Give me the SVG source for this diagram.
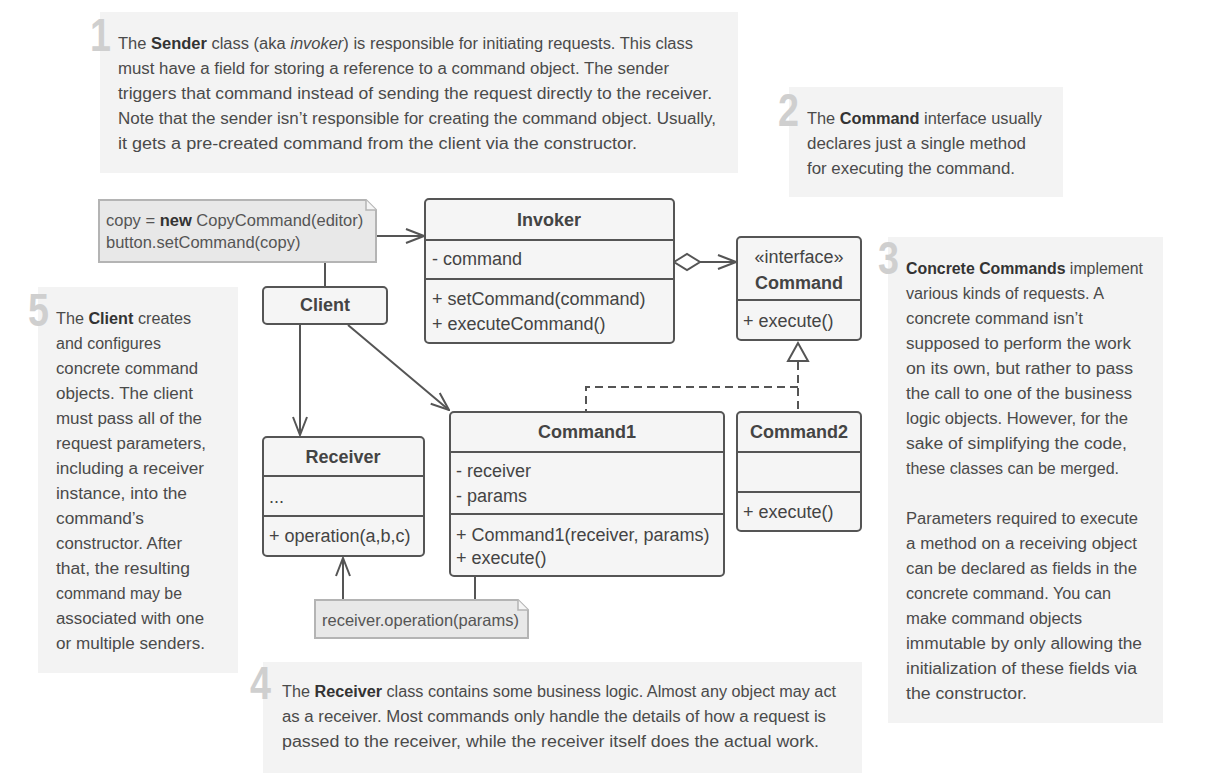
<svg xmlns="http://www.w3.org/2000/svg" width="1207" height="781" viewBox="0 0 1207 781">
<defs>
<style>
.panel{fill:#f3f3f3}
.num{font-family:"Liberation Sans",Arial,sans-serif;font-weight:bold;font-size:46px;fill:#cfcfcf}
.pt{font-family:"Liberation Sans",Arial,sans-serif;font-size:16px;fill:#4a4a4a}
.b{font-weight:bold;fill:#333}
.i{font-style:italic}
.box{fill:#f5f5f5;stroke:#555;stroke-width:2}
.nt{font-family:"Liberation Sans",Arial,sans-serif;font-size:18px;fill:#444}
.nh{font-family:"Liberation Sans",Arial,sans-serif;font-size:18px;font-weight:bold;fill:#444;text-anchor:middle}
.note{fill:#e8e8e8;stroke:#b4b4b4;stroke-width:2}
.fold{fill:#f5f5f5;stroke:#b4b4b4;stroke-width:1.5}
.ntx{font-family:"Liberation Sans",Arial,sans-serif;font-size:16.5px;fill:#555}
.ln{fill:none;stroke:#555;stroke-width:2}
.dash{fill:none;stroke:#555;stroke-width:2;stroke-dasharray:8 5}
</style>
<marker id="arr" markerUnits="userSpaceOnUse" viewBox="0 0 20 16" refX="19" refY="8" markerWidth="20" markerHeight="16" orient="auto">
<path d="M1,1 L19,8 L1,15" fill="none" stroke="#555" stroke-width="2"/>
</marker>
</defs>
<rect width="1207" height="781" fill="#ffffff"/>

<!-- Panels -->
<g id="panel1">
<rect class="panel" x="100" y="12" width="638" height="161"/>
<text class="num" transform="translate(90,51) scale(0.82,1)">1</text>
<text class="pt" x="118" y="49" textLength="575" lengthAdjust="spacingAndGlyphs">The <tspan class="b">Sender</tspan> class (aka <tspan class="i">invoker</tspan>) is responsible for initiating requests. This class</text>
<text class="pt" x="118" y="74" textLength="551" lengthAdjust="spacingAndGlyphs">must have a field for storing a reference to a command object. The sender</text>
<text class="pt" x="118" y="99" textLength="594" lengthAdjust="spacingAndGlyphs">triggers that command instead of sending the request directly to the receiver.</text>
<text class="pt" x="118" y="124" textLength="598" lengthAdjust="spacingAndGlyphs">Note that the sender isn’t responsible for creating the command object. Usually,</text>
<text class="pt" x="118" y="149" textLength="519" lengthAdjust="spacingAndGlyphs">it gets a pre-created command from the client via the constructor.</text>
</g>

<g id="panel2">
<rect class="panel" x="789" y="87" width="274" height="110"/>
<text class="num" transform="translate(778,126) scale(0.82,1)">2</text>
<text class="pt" x="807" y="124" textLength="235" lengthAdjust="spacingAndGlyphs">The <tspan class="b">Command</tspan> interface usually</text>
<text class="pt" x="807" y="149" textLength="219" lengthAdjust="spacingAndGlyphs">declares just a single method</text>
<text class="pt" x="807" y="174" textLength="208" lengthAdjust="spacingAndGlyphs">for executing the command.</text>
</g>

<g id="panel3">
<rect class="panel" x="888" y="237" width="275" height="486"/>
<text class="num" transform="translate(878,274) scale(0.82,1)">3</text>
<text class="pt" x="906" y="274" textLength="237" lengthAdjust="spacingAndGlyphs"><tspan class="b">Concrete Commands</tspan> implement</text>
<text class="pt" x="906" y="299" textLength="198" lengthAdjust="spacingAndGlyphs">various kinds of requests. A</text>
<text class="pt" x="906" y="324" textLength="177" lengthAdjust="spacingAndGlyphs">concrete command isn’t</text>
<text class="pt" x="906" y="349" textLength="225" lengthAdjust="spacingAndGlyphs">supposed to perform the work</text>
<text class="pt" x="906" y="374" textLength="227" lengthAdjust="spacingAndGlyphs">on its own, but rather to pass</text>
<text class="pt" x="906" y="399" textLength="226" lengthAdjust="spacingAndGlyphs">the call to one of the business</text>
<text class="pt" x="906" y="424" textLength="222" lengthAdjust="spacingAndGlyphs">logic objects. However, for the</text>
<text class="pt" x="906" y="449" textLength="221" lengthAdjust="spacingAndGlyphs">sake of simplifying the code,</text>
<text class="pt" x="906" y="474" textLength="213" lengthAdjust="spacingAndGlyphs">these classes can be merged.</text>
<text class="pt" x="906" y="524" textLength="232" lengthAdjust="spacingAndGlyphs">Parameters required to execute</text>
<text class="pt" x="906" y="549" textLength="231" lengthAdjust="spacingAndGlyphs">a method on a receiving object</text>
<text class="pt" x="906" y="574" textLength="231" lengthAdjust="spacingAndGlyphs">can be declared as fields in the</text>
<text class="pt" x="906" y="599" textLength="205" lengthAdjust="spacingAndGlyphs">concrete command. You can</text>
<text class="pt" x="906" y="624" textLength="176" lengthAdjust="spacingAndGlyphs">make command objects</text>
<text class="pt" x="906" y="649" textLength="236" lengthAdjust="spacingAndGlyphs">immutable by only allowing the</text>
<text class="pt" x="906" y="674" textLength="231" lengthAdjust="spacingAndGlyphs">initialization of these fields via</text>
<text class="pt" x="906" y="699" textLength="121" lengthAdjust="spacingAndGlyphs">the constructor.</text>
</g>

<g id="panel4">
<rect class="panel" x="263" y="662" width="599" height="111"/>
<text class="num" transform="translate(250,699) scale(0.82,1)">4</text>
<text class="pt" x="282" y="697" textLength="554" lengthAdjust="spacingAndGlyphs">The <tspan class="b">Receiver</tspan> class contains some business logic. Almost any object may act</text>
<text class="pt" x="282" y="722" textLength="544" lengthAdjust="spacingAndGlyphs">as a receiver. Most commands only handle the details of how a request is</text>
<text class="pt" x="282" y="747" textLength="537" lengthAdjust="spacingAndGlyphs">passed to the receiver, while the receiver itself does the actual work.</text>
</g>

<g id="panel5">
<rect class="panel" x="38" y="287" width="200" height="386"/>
<text class="num" transform="translate(28,326) scale(0.82,1)">5</text>
<text class="pt" x="56" y="324" textLength="135" lengthAdjust="spacingAndGlyphs">The <tspan class="b">Client</tspan> creates</text>
<text class="pt" x="56" y="349" textLength="105" lengthAdjust="spacingAndGlyphs">and configures</text>
<text class="pt" x="56" y="374" textLength="142" lengthAdjust="spacingAndGlyphs">concrete command</text>
<text class="pt" x="56" y="399" textLength="137" lengthAdjust="spacingAndGlyphs">objects. The client</text>
<text class="pt" x="56" y="424" textLength="146" lengthAdjust="spacingAndGlyphs">must pass all of the</text>
<text class="pt" x="56" y="449" textLength="150" lengthAdjust="spacingAndGlyphs">request parameters,</text>
<text class="pt" x="56" y="474" textLength="148" lengthAdjust="spacingAndGlyphs">including a receiver</text>
<text class="pt" x="56" y="499" textLength="131" lengthAdjust="spacingAndGlyphs">instance, into the</text>
<text class="pt" x="56" y="524" textLength="88" lengthAdjust="spacingAndGlyphs">command’s</text>
<text class="pt" x="56" y="549" textLength="126" lengthAdjust="spacingAndGlyphs">constructor. After</text>
<text class="pt" x="56" y="574" textLength="134" lengthAdjust="spacingAndGlyphs">that, the resulting</text>
<text class="pt" x="56" y="599" textLength="126" lengthAdjust="spacingAndGlyphs">command may be</text>
<text class="pt" x="56" y="624" textLength="148" lengthAdjust="spacingAndGlyphs">associated with one</text>
<text class="pt" x="56" y="649" textLength="149" lengthAdjust="spacingAndGlyphs">or multiple senders.</text>
</g>

<!-- Connectors -->
<g id="connectors">
<line class="ln" x1="376" y1="236" x2="424" y2="236" marker-end="url(#arr)"/>
<line class="ln" x1="325" y1="262" x2="325" y2="287"/>
<polygon points="674,262 687,254 700,262 687,270" fill="#ffffff" stroke="#555" stroke-width="2"/>
<line class="ln" x1="700" y1="262" x2="736" y2="262" marker-end="url(#arr)"/>
<line class="ln" x1="300" y1="324" x2="300" y2="435" marker-end="url(#arr)"/>
<line class="ln" x1="348" y1="325" x2="449" y2="410" marker-end="url(#arr)"/>
<path class="dash" d="M798,362 V412"/>
<path class="dash" d="M798,387 H586 V412"/>
<polygon points="798,343 788,361 808,361" fill="#ffffff" stroke="#555" stroke-width="2"/>
<line class="ln" x1="343" y1="600" x2="343" y2="558" marker-end="url(#arr)"/>
<line class="ln" x1="475" y1="576" x2="475" y2="600"/>
</g>

<!-- Nodes -->
<g id="note-client">
<path class="note" d="M99,200 H366 L376,210 V262 H99 Z"/>
<path class="fold" d="M366,200 V210 H376"/>
<text class="ntx" x="106" y="226">copy = <tspan font-weight="bold" fill="#333">new</tspan> CopyCommand(editor)</text>
<text class="ntx" x="106" y="248">button.setCommand(copy)</text>
</g>

<g id="invoker">
<rect class="box" x="425" y="199" width="249" height="144" rx="4"/>
<line class="ln" x1="425" y1="240" x2="674" y2="240"/>
<line class="ln" x1="425" y1="279" x2="674" y2="279"/>
<text class="nh" x="549" y="226">Invoker</text>
<text class="nt" x="432" y="265">- command</text>
<text class="nt" x="432" y="305">+ setCommand(command)</text>
<text class="nt" x="432" y="330">+ executeCommand()</text>
</g>

<g id="command">
<rect class="box" x="737" y="237" width="124" height="103" rx="4"/>
<line class="ln" x1="737" y1="300" x2="861" y2="300"/>
<text class="nt" x="799" y="263" text-anchor="middle">«interface»</text>
<text class="nh" x="799" y="289">Command</text>
<text class="nt" x="743" y="327">+ execute()</text>
</g>

<g id="client">
<rect class="box" x="263" y="287" width="124" height="37" rx="4"/>
<text class="nh" x="325" y="311">Client</text>
</g>

<g id="receiver">
<rect class="box" x="263" y="437" width="161" height="119" rx="4"/>
<line class="ln" x1="263" y1="476" x2="424" y2="476"/>
<line class="ln" x1="263" y1="516" x2="424" y2="516"/>
<text class="nh" x="343" y="463">Receiver</text>
<text class="nt" x="269" y="503">...</text>
<text class="nt" x="269" y="542">+ operation(a,b,c)</text>
</g>

<g id="command1">
<rect class="box" x="450" y="412" width="274" height="164" rx="4"/>
<line class="ln" x1="450" y1="452" x2="724" y2="452"/>
<line class="ln" x1="450" y1="514" x2="724" y2="514"/>
<text class="nh" x="587" y="438">Command1</text>
<text class="nt" x="456" y="477">- receiver</text>
<text class="nt" x="456" y="502">- params</text>
<text class="nt" x="456" y="541">+ Command1(receiver, params)</text>
<text class="nt" x="456" y="564">+ execute()</text>
</g>

<g id="command2">
<rect class="box" x="737" y="412" width="124" height="119" rx="4"/>
<line class="ln" x1="737" y1="452" x2="861" y2="452"/>
<line class="ln" x1="737" y1="492" x2="861" y2="492"/>
<text class="nh" x="799" y="438">Command2</text>
<text class="nt" x="743" y="518">+ execute()</text>
</g>

<g id="note-command1">
<path class="note" d="M315,600 H518 L528,610 V638 H315 Z"/>
<path class="fold" d="M518,600 V610 H528"/>
<text class="ntx" x="322" y="626" textLength="197" lengthAdjust="spacingAndGlyphs">receiver.operation(params)</text>
</g>
</svg>
